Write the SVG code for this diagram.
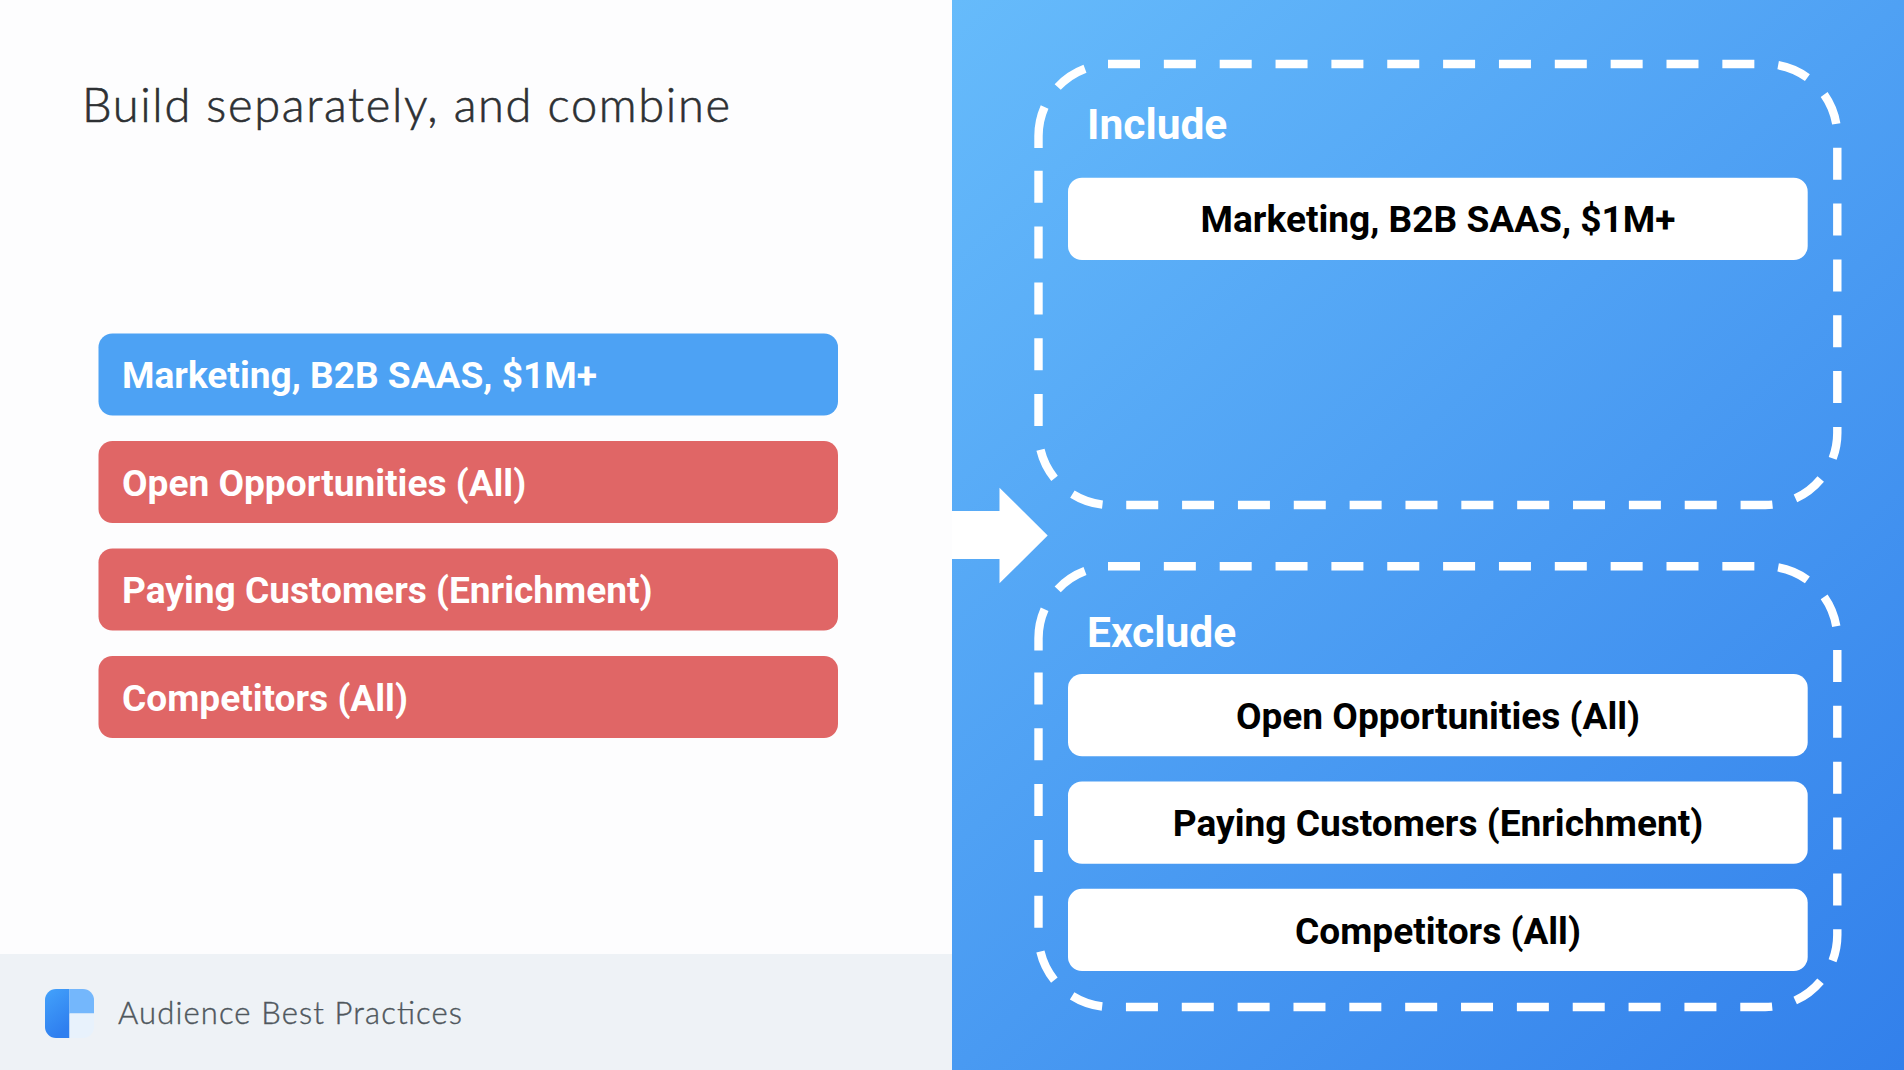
<svg xmlns="http://www.w3.org/2000/svg" width="1904" height="1070" viewBox="0 0 1904 1070">
<defs>
<linearGradient id="panel" gradientUnits="userSpaceOnUse" x1="952" y1="0" x2="1904" y2="1070"><stop offset="0" stop-color="#66bbfb"/><stop offset="1" stop-color="#3280eb"/></linearGradient>
<linearGradient id="logoL" x1="0" y1="0" x2="0.4" y2="1"><stop offset="0" stop-color="#43a2fb"/><stop offset="1" stop-color="#2f7fef"/></linearGradient>
<clipPath id="logoClip"><rect x="45" y="989" width="49" height="49" rx="11"/></clipPath>
</defs>
<style>
.bar{font-family:Roboto,"Liberation Sans",sans-serif;font-weight:700;font-size:37.1px}
.w{fill:#fff}
.k{fill:#000;text-anchor:middle}
.head{font-family:Roboto,"Liberation Sans",sans-serif;font-weight:700;font-size:42.5px;fill:#fff}
.av{font-family:Lato,"Open Sans",sans-serif;font-weight:300}
.dash{fill:none;stroke:#fff;stroke-width:8.4;stroke-dasharray:32 23.85}
.seam{fill:none;stroke:#fff;stroke-width:8.4}
.blue{fill:#4da2f4}.red{fill:#e06666}
</style>
<rect width="952" height="1070" fill="#fdfdfe"/>
<rect y="954" width="952" height="116" fill="#eef2f6"/>
<rect x="952" width="952" height="1070" fill="url(#panel)"/>
<text class="av" x="82" y="122" font-size="47" fill="#2d3033" stroke="#2d3033" stroke-width="0.6" textLength="648" lengthAdjust="spacing">Build separately, and combine</text>
<g id="footer-logo" clip-path="url(#logoClip)">
<rect x="45" y="989" width="24.5" height="49" fill="url(#logoL)"/>
<rect x="69.5" y="989" width="24.5" height="24.5" fill="#74b7fc"/>
<rect x="69.5" y="1013.5" width="24.5" height="24.5" fill="#e8f2fc"/>
</g>
<text id="footer-text" class="av" x="118" y="1024" font-size="31" fill="#4f575d" stroke="#4f575d" stroke-width="0.4" textLength="344" lengthAdjust="spacing">Audience Best Practices</text>
<g id="left-marketing"><rect class="blue" x="98.5" y="333.5" width="739.5" height="82" rx="14"/><text class="bar w" x="122" y="388">Marketing, B2B SAAS, $1M+</text></g>
<g id="left-open"><rect class="red" x="98.5" y="441" width="739.5" height="82" rx="14"/><text class="bar w" x="122" y="496">Open Opportunities (All)</text></g>
<g id="left-paying"><rect class="red" x="98.5" y="548.5" width="739.5" height="82" rx="14"/><text class="bar w" x="122" y="603">Paying Customers (Enrichment)</text></g>
<g id="left-competitors"><rect class="red" x="98.5" y="656" width="739.5" height="82" rx="14"/><text class="bar w" x="122" y="711">Competitors (All)</text></g>
<g id="connectors"><path id="arrow" fill="#fff" d="M952 511H999.5V487.7L1047.7 535.5L999.5 583.3V559H952Z"/></g>
<g id="include"><path class="dash" d="M1108 64H1765.3A72 72 0 0 1 1837.3 136V433A72 72 0 0 1 1765.3 505H1110.5A72 72 0 0 1 1038.5 433V150"/><path class="seam" d="M1038.5 148V136A72 72 0 0 1 1044.6 107M1057.7 87A72 72 0 0 1 1085 68.7"/><text class="head" x="1087" y="139">Include</text></g>
<g id="include-marketing"><rect class="w" x="1068" y="177.7" width="739.7" height="82.3" rx="14"/><text class="bar k" x="1438" y="232">Marketing, B2B SAAS, $1M+</text></g>
<g id="exclude"><path class="dash" d="M1108 566.3H1765.3A72 72 0 0 1 1837.3 638.3V935A72 72 0 0 1 1765.3 1007H1110.5A72 72 0 0 1 1038.5 935V652.5"/><path class="seam" d="M1038.5 650.5V638.3A72 72 0 0 1 1044.6 609.3M1057.7 589.3A72 72 0 0 1 1085 571"/><text class="head" x="1087" y="647">Exclude</text></g>
<g id="exclude-open"><rect class="w" x="1068" y="674" width="739.7" height="82.3" rx="14"/><text class="bar k" x="1438" y="729">Open Opportunities (All)</text></g>
<g id="exclude-paying"><rect class="w" x="1068" y="781.5" width="739.7" height="82.3" rx="14"/><text class="bar k" x="1438" y="836">Paying Customers (Enrichment)</text></g>
<g id="exclude-competitors"><rect class="w" x="1068" y="888.8" width="739.7" height="82.3" rx="14"/><text class="bar k" x="1438" y="944">Competitors (All)</text></g>
</svg>
